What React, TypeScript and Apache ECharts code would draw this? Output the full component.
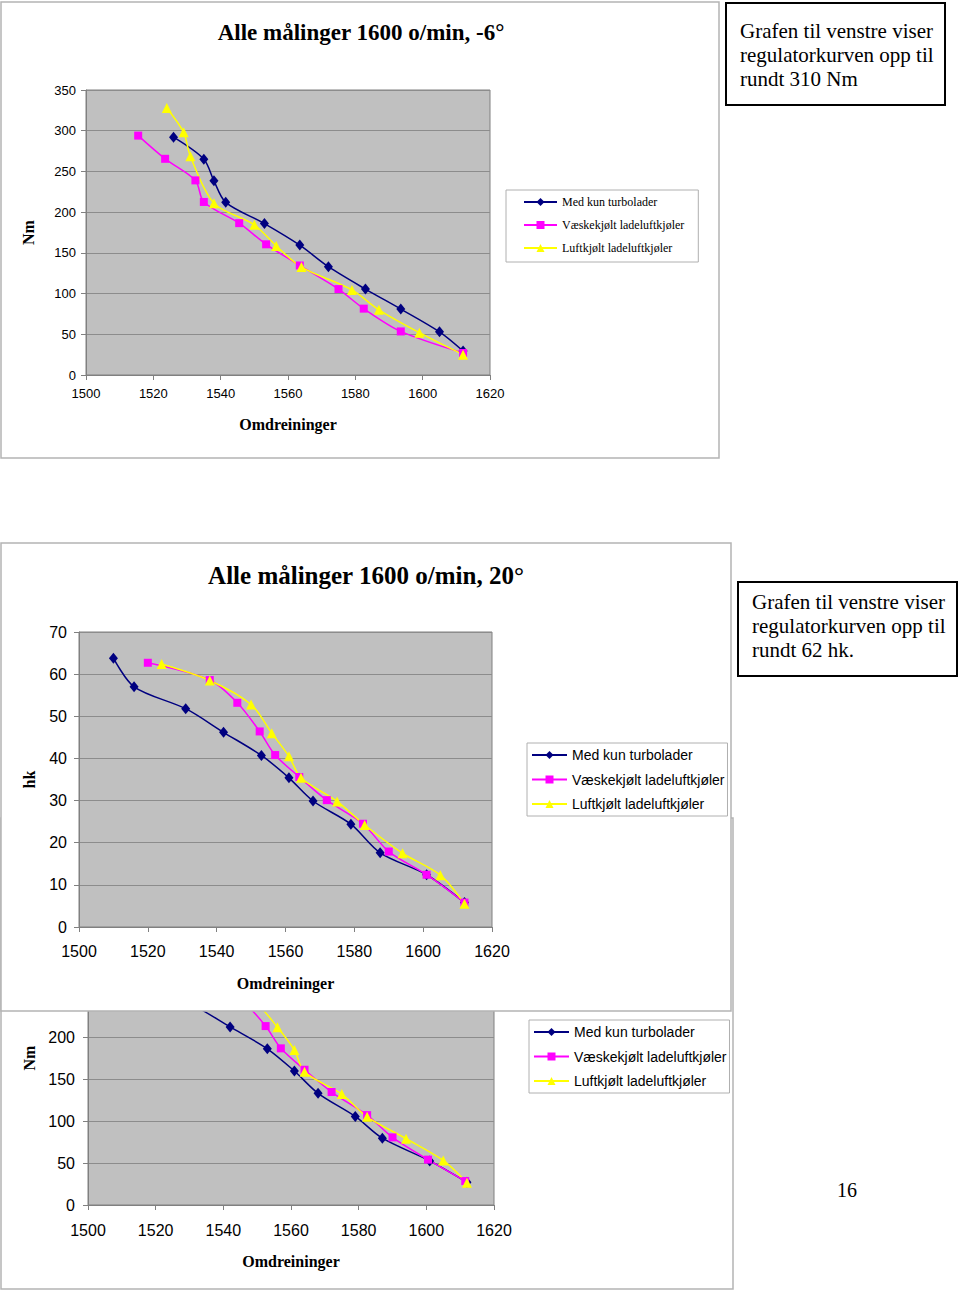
import React, { useEffect, useRef } from "react";
import * as echarts from "echarts";

// ---- shared axis values ----
const rpmMin = 1500;
const rpmMax = 1620;
const rpmStep = 20;
const seriesNames = ["Med kun turbolader", "Væskekjølt ladeluftkjøler", "Luftkjølt ladeluftkjøler"];

// ---- Chart 1: Alle målinger 1600 o/min, -6°  (Nm) ----
const c1TurboRpm = [1526, 1535, 1538, 1541.5, 1553, 1563.5, 1572, 1583, 1593.5, 1605, 1612];
const c1TurboNm = [292, 265, 238.5, 212, 186, 159.5, 133, 105.5, 81, 53, 29.5];
const c1WaterRpm = [1515.5, 1523.5, 1532.5, 1535, 1545.5, 1553.5, 1563.5, 1575, 1582.5, 1593.5, 1612];
const c1WaterNm = [294, 265.5, 239, 212.5, 186.5, 160.5, 134.5, 105.5, 81.5, 53.5, 27];
const c1AirRpm = [1524, 1529, 1531, 1538, 1550, 1556.5, 1564, 1579, 1587, 1599, 1612];
const c1AirNm = [328, 298, 268.5, 211, 184.5, 158.5, 132.5, 104.5, 80, 52, 25];

// ---- Chart 2: Alle målinger 1600 o/min, 20° (hk) ----
const c2TurboRpm = [1510, 1516, 1531, 1542, 1553, 1561, 1568, 1579, 1587.5, 1601, 1612];
const c2TurboHk = [63.8, 57, 51.8, 46.2, 40.7, 35.4, 29.9, 24.4, 17.6, 12.4, 5.8];
const c2WaterRpm = [1520, 1538, 1546, 1552.5, 1557, 1564, 1572, 1582.5, 1590, 1601, 1612];
const c2WaterHk = [62.7, 58.6, 53.2, 46.4, 40.8, 35.6, 30.1, 24.5, 17.9, 12.4, 5.8];
const c2AirRpm = [1524, 1538, 1550, 1556, 1561, 1564.5, 1575, 1583, 1594, 1605, 1612];
const c2AirHk = [62.4, 58.5, 52.8, 46, 40.5, 35.4, 29.8, 24.2, 17.5, 12.3, 5.5];

// ---- Chart 3: 20° (Nm), partly hidden behind chart 2 ----
const c3TurboRpm = [1510, 1516, 1531, 1542, 1553, 1561, 1568, 1579, 1587, 1601, 1612];
const c3TurboNm = [297, 264, 238, 212, 186, 159.5, 133, 105.5, 79.5, 52.5, 27];
const c3WaterRpm = [1520, 1538, 1546, 1552.5, 1557, 1564, 1572, 1582.5, 1590, 1600.5, 1611.5];
const c3WaterNm = [290, 267, 242, 213, 186.5, 161, 134.5, 107, 80.5, 54, 28.5];
const c3AirRpm = [1524, 1538, 1550, 1556, 1561, 1564, 1575, 1582.5, 1594, 1605, 1612];
const c3AirNm = [288, 267, 239, 211.5, 184.5, 158.5, 132, 105, 79, 53, 26.5];
// highest tick label of chart 3 that is not covered by chart 2
const c3VisibleTickMax = 200;

const colors = ["#000080", "#FF00FF", "#FFFF00"];
const symbols = ["diamond", "rect", "triangle"];
const symbolSizes: any[] = [[9, 11], 8, 10];

const SERIF = "Liberation Serif";
const SANS = "Liberation Sans";

function pts(x: number[], y: number[]) {
  return x.map((v, i) => [v, y[i]]);
}

function mkSeries(k: number, x: number[], y: number[], idx: number, z: number) {
  return {
    type: "line",
    name: seriesNames[k],
    xAxisIndex: idx,
    yAxisIndex: idx,
    data: pts(x, y),
    smooth: 0.3,
    symbol: symbols[k],
    symbolSize: symbolSizes[k],
    lineStyle: { color: colors[k], width: 1.5 },
    itemStyle: { color: colors[k] },
    clip: true,
    z,
  };
}

function mkXAxis(idx: number, fontSize: number, margin: number, nameGap: number, z: number) {
  return {
    type: "value",
    gridIndex: idx,
    min: rpmMin,
    max: rpmMax,
    interval: rpmStep,
    z,
    splitLine: { show: false },
    axisLine: { show: true, onZero: false, lineStyle: { color: "#808080", width: 1 } },
    axisTick: { show: true, length: 5, lineStyle: { color: "#808080" } },
    axisLabel: { color: "#000", fontFamily: SANS, fontSize, margin, formatter: (v: number) => String(v) },
    name: "Omdreininger",
    nameLocation: "middle",
    nameGap,
    nameTextStyle: { fontFamily: SERIF, fontWeight: "bold", fontSize: 16, color: "#000" },
  };
}

function mkYAxis(idx: number, max: number, step: number, name: string, fontSize: number, margin: number, nameGap: number, z: number, labelMax?: number) {
  return {
    type: "value",
    gridIndex: idx,
    min: 0,
    max,
    interval: step,
    z,
    splitLine: { show: true, lineStyle: { color: "#8c8c8c", width: 1 } },
    axisLine: { show: true, lineStyle: { color: "#808080", width: 1 } },
    axisTick: { show: true, length: 5, lineStyle: { color: "#808080" } },
    axisLabel: {
      color: "#000",
      fontFamily: SANS,
      fontSize,
      margin,
      formatter: (v: number) => (labelMax === undefined || v <= labelMax ? String(v) : ""),
    },
    name,
    nameLocation: "middle",
    nameGap,
    nameTextStyle: { fontFamily: SERIF, fontWeight: "bold", fontSize: 16, color: "#000" },
  };
}

function txt(text: string, x: number, y: number, fontSize: number, bold: boolean, align: string, z = 7) {
  return {
    type: "text",
    x,
    y,
    z,
    style: {
      text,
      fill: "#000",
      fontFamily: SERIF,
      fontSize,
      fontWeight: bold ? "bold" : "normal",
      align,
      textAlign: align,
      verticalAlign: "middle",
      textVerticalAlign: "middle",
    },
  };
}

export default function App() {
  const ref = useRef<HTMLDivElement>(null);
  useEffect(() => {
    if (!ref.current) return;
    const chart = echarts.init(ref.current, undefined, { renderer: "svg" });
    const option: any = {
      animation: false,
      backgroundColor: "#ffffff",
      grid: [
        { left: 86, top: 90, width: 404, height: 285, show: true, backgroundColor: "#c0c0c0", borderColor: "#808080", borderWidth: 1, z: 4 },
        { left: 79, top: 632, width: 413, height: 295, show: true, backgroundColor: "#c0c0c0", borderColor: "#808080", borderWidth: 1, z: 4 },
        { left: 88, top: 911, width: 406, height: 294, show: true, backgroundColor: "#c0c0c0", borderColor: "#808080", borderWidth: 1, z: 1 },
      ],
      xAxis: [mkXAxis(0, 13, 12, 41, 5), mkXAxis(1, 16, 16, 48, 5), mkXAxis(2, 16, 17, 48, 2)],
      yAxis: [
        mkYAxis(0, 350, 50, "Nm", 13, 10, 50, 5),
        mkYAxis(1, 70, 10, "hk", 16, 12, 42, 5),
        mkYAxis(2, 350, 50, "Nm", 16, 13, 51, 2, c3VisibleTickMax),
      ],
      legend: [
        {
          orient: "vertical", left: 506, top: 190, padding: [6, 14, 8, 17],
          itemWidth: 33, itemHeight: 10, itemGap: 11, selectedMode: false,
          data: seriesNames, textStyle: { fontFamily: SERIF, fontSize: 12, color: "#000" },
          borderColor: "#b0b0b0", borderWidth: 1, backgroundColor: "#fff", z: 6,
        },
        {
          orient: "vertical", left: 527, top: 743, padding: [5, 3, 5, 4],
          itemWidth: 35, itemHeight: 10, itemGap: 10.5, selectedMode: false,
          data: seriesNames, textStyle: { fontFamily: SANS, fontSize: 14, color: "#000" },
          borderColor: "#b0b0b0", borderWidth: 1, backgroundColor: "#fff", z: 6,
        },
        {
          orient: "vertical", left: 529, top: 1020, padding: [5, 3, 5, 4],
          itemWidth: 35, itemHeight: 10, itemGap: 10.5, selectedMode: false,
          data: seriesNames, textStyle: { fontFamily: SANS, fontSize: 14, color: "#000" },
          borderColor: "#b0b0b0", borderWidth: 1, backgroundColor: "#fff", z: 2,
        },
      ],
      series: [
        mkSeries(0, c1TurboRpm, c1TurboNm, 0, 6),
        mkSeries(1, c1WaterRpm, c1WaterNm, 0, 6),
        mkSeries(2, c1AirRpm, c1AirNm, 0, 6),
        mkSeries(0, c2TurboRpm, c2TurboHk, 1, 6),
        mkSeries(1, c2WaterRpm, c2WaterHk, 1, 6),
        mkSeries(2, c2AirRpm, c2AirHk, 1, 6),
        mkSeries(0, c3TurboRpm, c3TurboNm, 2, 2),
        mkSeries(1, c3WaterRpm, c3WaterNm, 2, 2),
        mkSeries(2, c3AirRpm, c3AirNm, 2, 2),
      ],
      graphic: {
        elements: [
          { type: "rect", z: 0, shape: { x: 1, y: 818, width: 732, height: 471 }, style: { fill: "none", stroke: "#b4b4b4", lineWidth: 1.5 } },
          { type: "rect", z: 3, shape: { x: 1, y: 543, width: 730, height: 468 }, style: { fill: "#ffffff", stroke: "#b4b4b4", lineWidth: 1.5 } },
          { type: "rect", z: 3, shape: { x: 1, y: 2, width: 718, height: 456 }, style: { fill: "#ffffff", stroke: "#b4b4b4", lineWidth: 1.5 } },
          txt("Alle målinger 1600 o/min, -6°", 361, 32, 23, true, "center"),
          txt("Alle målinger 1600 o/min, 20°", 366, 575, 25, true, "center"),
          { type: "rect", z: 7, shape: { x: 726, y: 3, width: 219, height: 102 }, style: { fill: "#fff", stroke: "#000", lineWidth: 2 } },
          txt("Grafen til venstre viser", 740, 31, 21, false, "left", 8),
          txt("regulatorkurven opp til", 740, 55, 21, false, "left", 8),
          txt("rundt 310 Nm", 740, 79, 21, false, "left", 8),
          { type: "rect", z: 7, shape: { x: 738, y: 582, width: 219, height: 94 }, style: { fill: "#fff", stroke: "#000", lineWidth: 2 } },
          txt("Grafen til venstre viser", 752, 602, 21, false, "left", 8),
          txt("regulatorkurven opp til", 752, 626, 21, false, "left", 8),
          txt("rundt 62 hk.", 752, 650, 21, false, "left", 8),
          txt("16", 847, 1190, 20, false, "center"),
        ],
      },
    };
    chart.setOption(option);
    return () => chart.dispose();
  }, []);
  return <div ref={ref} style={{ position: "absolute", left: 0, top: 0, width: 960, height: 1292 }} />;
}
